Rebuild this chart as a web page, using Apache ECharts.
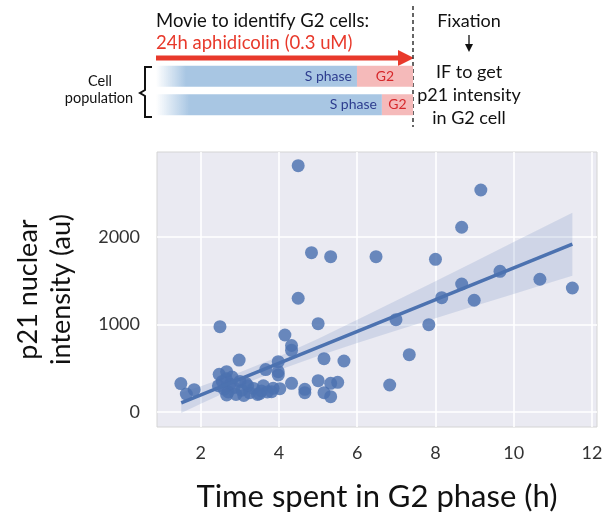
<!DOCTYPE html>
<html><head><meta charset="utf-8">
<script src="https://cdn.jsdelivr.net/npm/echarts@6/dist/echarts.min.js"></script>
<style>html,body{margin:0;padding:0;background:#fff}#c{width:612px;height:513px}</style>
</head><body><div id="c"></div>
<script>
// Scatter data: time in G2 (h) and p21 intensity (au)
const timeG2 = [4.49,9.16,8.67,4.83,5.32,6.48,8.0,9.65,10.67,8.67,11.5,4.49,8.16,8.99,6.99,5.0,7.83,2.49,4.15,4.32,4.32,7.33,5.15,2.98,5.66,3.98,3.66,3.98,3.98,2.66,2.47,1.49,1.63,1.83,6.83,4.32,5.0,5.32,5.5,4.66,4.66,5.15,5.32,3.85,4.02,3.81,
  2.45,2.55,2.6,2.7,2.75,2.85,2.9,3.0,3.05,3.1,3.2,3.25,3.35,3.45,3.55,3.6,3.7,2.65,2.8,3.15,3.5,2.66];
const p21 = [2815,2537,2111,1821,1775,1775,1745,1608,1517,1463,1417,1300,1307,1277,1055,1010,998,975,880,760,705,655,610,594,583,575,485,461,423,461,431,325,206,255,309,328,358,328,339,259,221,221,175,271,267,232,
  300,350,260,230,320,280,200,350,250,190,300,220,270,200,240,300,230,380,400,330,210,195];
// Regression line and its confidence band
const fitX = [1.5, 11.5];
const fitY = [105, 1918];
const bandX = [1.5, 2, 3, 4, 5, 6, 7, 8, 9, 10, 11, 11.5];
const bandLow = [-10, 96, 300, 481, 640, 788, 931, 1071, 1212, 1350, 1488, 1558];
const bandHigh = [220, 294, 454, 635, 838, 1054, 1273, 1495, 1718, 1942, 2166, 2278];
// Schematic cell populations (percent of movie length)
const rows = ['cell 1', 'cell 2'];
const sPhase = [78.2, 87.9];
const g2Phase = [21.8, 12.1];

const FONT = 'Lato';
const BLUE = '#4C72B0';
const RED = '#e8392b';

const chart = echarts.init(document.getElementById('c'), null, {renderer: 'canvas'});
const sGrad = {type: 'linear', x: 0, y: 0, x2: 1, y2: 0, colorStops: [
  {offset: 0, color: 'rgba(168,198,227,0)'}, {offset: 0.15, color: '#a8c6e3'}, {offset: 1, color: '#a8c6e3'}]};

function renderBand(params, api) {
  if (params.dataIndex !== 0) return null;
  const pts = [];
  for (let j = 0; j < bandX.length; j++) pts.push(api.coord([bandX[j], bandHigh[j]]));
  for (let j = bandX.length - 1; j >= 0; j--) pts.push(api.coord([bandX[j], bandLow[j]]));
  return {type: 'polygon', shape: {points: pts}, style: {fill: 'rgba(76,114,176,0.17)'}};
}

const option = {
  animation: false,
  textStyle: {fontFamily: FONT},
  grid: [
    {left: 157, right: 15, top: 152, bottom: 86, show: true, backgroundColor: '#EAEAF2', borderColor: '#d4d4d4', borderWidth: 1,
     containLabel: false, outerBoundsMode: 'none'},
    {left: 156, width: 257, top: 62, height: 57, containLabel: false, outerBoundsMode: 'none'}
  ],
  xAxis: [
    {type: 'value', gridIndex: 0, min: 0.88, max: 12.13, splitNumber: 5, minInterval: 2, maxInterval: 2,
     axisLine: {show: false}, axisTick: {show: false},
     axisLabel: {margin: 17, fontSize: 18, color: '#333', fontFamily: FONT,
       formatter: v => (Math.abs(v / 2 - Math.round(v / 2)) < 1e-6 ? String(Math.round(v)) : '')},
     splitLine: {show: true, showMinLine: false, showMaxLine: false, lineStyle: {color: '#ffffff', width: 1.6}},
     name: 'Time spent in G2 phase (h)', nameLocation: 'middle', nameGap: 54,
     nameTextStyle: {fontSize: 31, color: '#111', fontFamily: FONT}},
    {type: 'value', gridIndex: 1, min: 0, max: 100, show: false}
  ],
  yAxis: [
    {type: 'value', gridIndex: 0, min: -171, max: 2971, splitNumber: 3, minInterval: 1000, maxInterval: 1000,
     axisLine: {show: false}, axisTick: {show: false},
     axisLabel: {margin: 17, fontSize: 18, color: '#333', fontFamily: FONT,
       formatter: v => (Math.abs(v / 1000 - Math.round(v / 1000)) < 1e-6 ? String(Math.round(v)) : '')},
     splitLine: {show: true, showMinLine: false, showMaxLine: false, lineStyle: {color: '#ffffff', width: 1.6}},
     name: 'p21 nuclear\nintensity (au)', nameLocation: 'middle', nameGap: 79, nameRotate: 90,
     nameTextStyle: {fontSize: 27, lineHeight: 33, color: '#111', fontFamily: FONT}},
    {type: 'category', gridIndex: 1, data: rows, inverse: true, show: false}
  ],
  series: [
    {type: 'scatter', xAxisIndex: 0, yAxisIndex: 0, symbolSize: 13, z: 2,
     itemStyle: {color: BLUE, opacity: 0.82},
     data: timeG2.map((t, i) => [t, p21[i]])},
    {type: 'custom', xAxisIndex: 0, yAxisIndex: 0, z: 3, silent: true, renderItem: renderBand,
     encode: {x: 0, y: [1, 2]},
     data: bandX.map((x, i) => [x, bandLow[i], bandHigh[i]])},
    {type: 'line', xAxisIndex: 0, yAxisIndex: 0, symbol: 'none', z: 4,
     lineStyle: {color: BLUE, width: 3.5},
     data: fitX.map((x, i) => [x, fitY[i]])},
    {type: 'bar', xAxisIndex: 1, yAxisIndex: 1, stack: 'cell', barWidth: 21,
     itemStyle: {color: sGrad},
     label: {show: true, position: 'insideRight', distance: 5, formatter: 'S phase', color: '#2d3d8f', fontSize: 14, fontFamily: FONT},
     data: sPhase},
    {type: 'bar', xAxisIndex: 1, yAxisIndex: 1, stack: 'cell', barWidth: 21,
     itemStyle: {color: '#f5baba'},
     label: {show: true, position: 'inside', formatter: 'G2', color: '#d6282b', fontSize: 14, fontFamily: FONT},
     data: g2Phase}
  ],
  graphic: [
    {type: 'text', left: 156, top: 12, style: {text: 'Movie to identify G2 cells:', fontSize: 18.5, fontFamily: FONT, fill: '#111'}},
    {type: 'text', left: 156, top: 34, style: {text: '24h aphidicolin (0.3 uM)', fontSize: 18.5, fontFamily: FONT, fill: RED}},
    {type: 'line', shape: {x1: 156, y1: 58, x2: 400, y2: 58}, style: {stroke: RED, lineWidth: 5}},
    {type: 'polygon', shape: {points: [[398, 50], [414, 58], [398, 66]]}, style: {fill: RED}},
    {type: 'line', shape: {x1: 413, y1: 6, x2: 413, y2: 127}, style: {stroke: '#333', lineWidth: 1.5, lineDash: [4, 3]}},
    {type: 'text', x: 469, y: 21, style: {text: 'Fixation', fontSize: 18, fontFamily: FONT, fill: '#111', align: 'center', verticalAlign: 'middle'}},
    {type: 'line', shape: {x1: 469, y1: 35, x2: 469, y2: 47}, style: {stroke: '#111', lineWidth: 1.3}},
    {type: 'polygon', shape: {points: [[465, 44], [469, 52], [473, 44]]}, style: {fill: '#111'}},
    {type: 'text', x: 469, y: 72, style: {text: 'IF to get', fontSize: 18, fontFamily: FONT, fill: '#111', align: 'center', verticalAlign: 'middle'}},
    {type: 'text', x: 469, y: 95, style: {text: 'p21 intensity', fontSize: 18, fontFamily: FONT, fill: '#111', align: 'center', verticalAlign: 'middle'}},
    {type: 'text', x: 469, y: 118, style: {text: 'in G2 cell', fontSize: 18, fontFamily: FONT, fill: '#111', align: 'center', verticalAlign: 'middle'}},
    {type: 'text', x: 100, y: 81, style: {text: 'Cell', fontSize: 14.5, fontFamily: FONT, fill: '#111', align: 'center', verticalAlign: 'middle'}},
    {type: 'text', x: 99, y: 98, style: {text: 'population', fontSize: 14.5, fontFamily: FONT, fill: '#111', align: 'center', verticalAlign: 'middle'}},
    {type: 'polyline', shape: {points: [[152, 67], [145, 67], [145, 90], [140, 93], [145, 96], [145, 117], [152, 117]]},
     style: {stroke: '#111', lineWidth: 2, fill: null}}
  ]
};
chart.setOption(option);
</script></body></html>
